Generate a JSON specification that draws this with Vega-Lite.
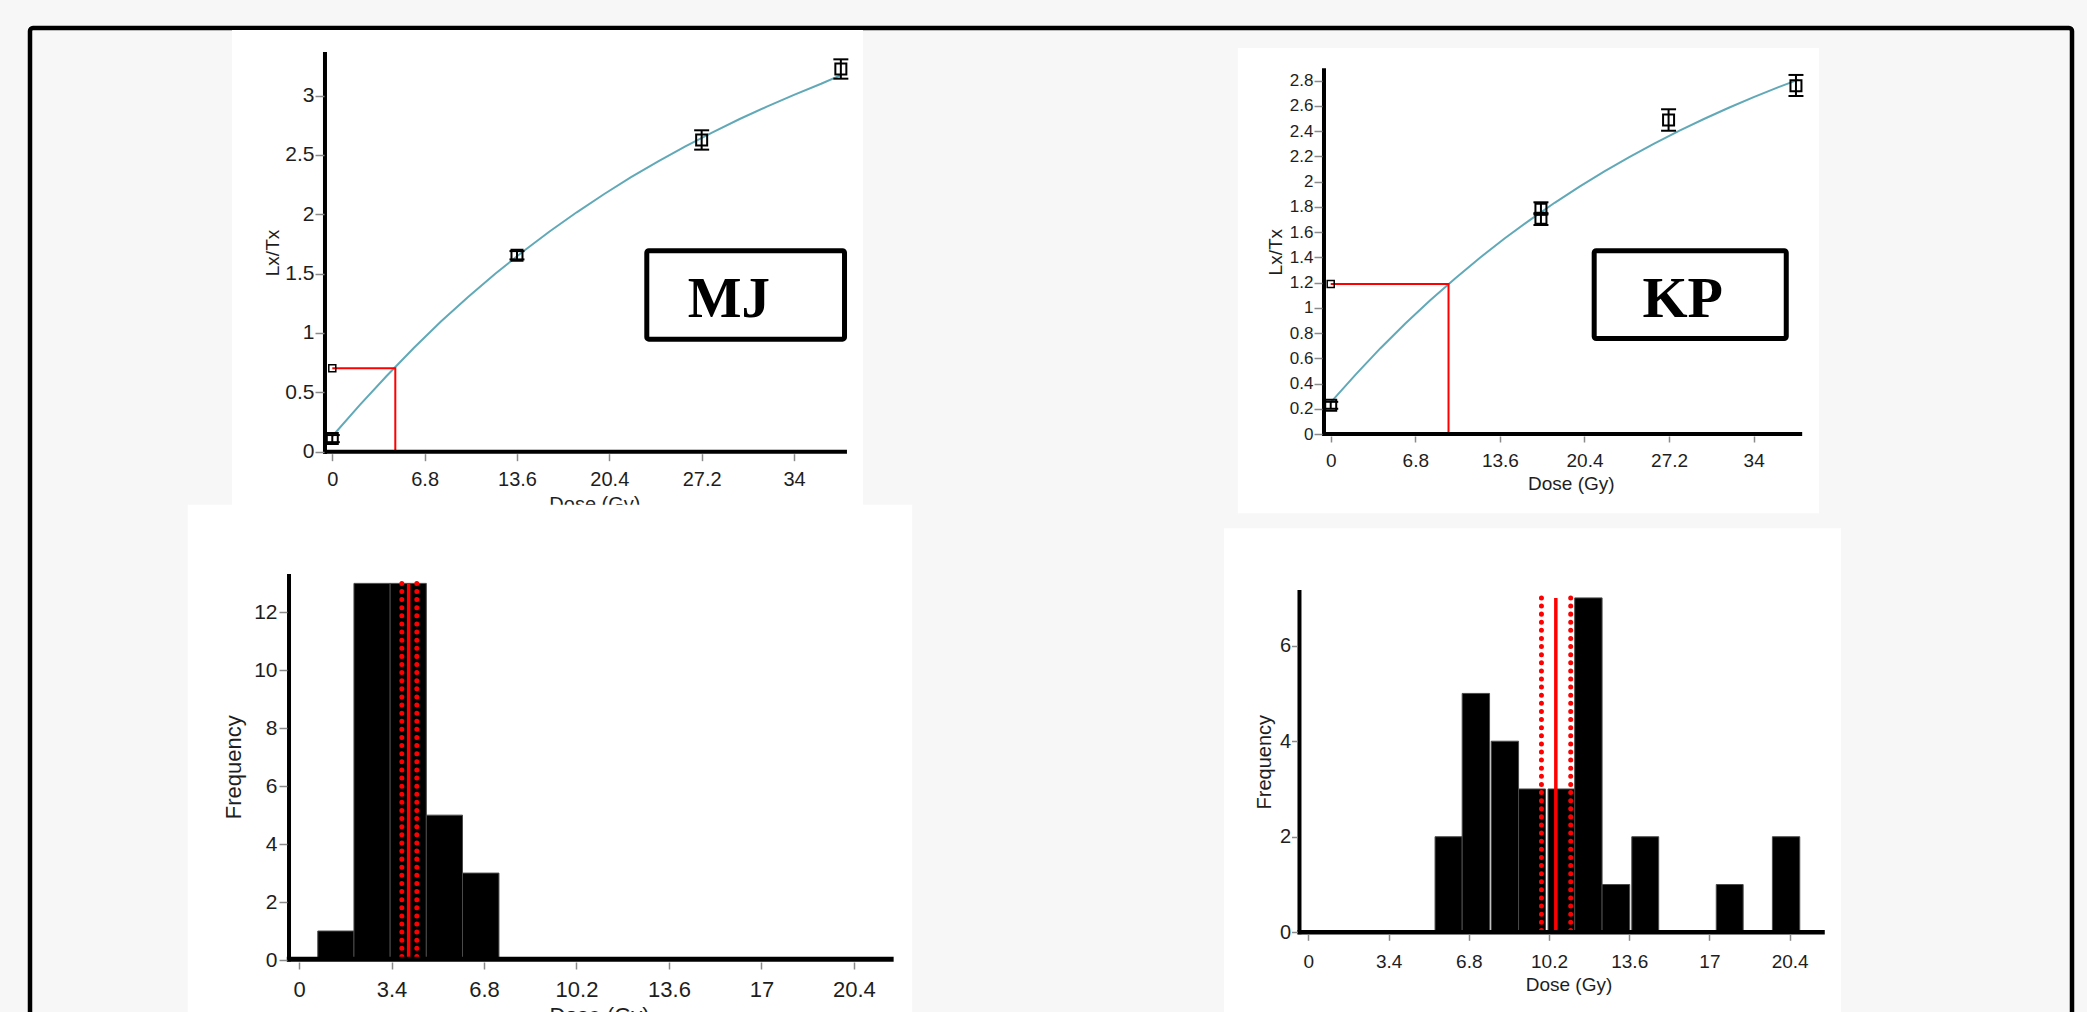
{
  "$schema": "https://vega.github.io/schema/vega-lite/v6.json",
  "width": 2042,
  "height": 994,
  "autosize": {"type": "none"},
  "padding": {"left": 30, "top": 28, "right": 15, "bottom": -10},
  "background": "#f7f7f7",
  "config": {
    "view": {"stroke": "#000000", "strokeWidth": 4.5, "cornerRadius": 3},
    "axis": {
      "grid": false, "domain": false, "tickColor": "#8a8a8a", "tickWidth": 1.5,
      "labelColor": "#1e1e1e", "labelFont": "Liberation Sans", "titleFont": "Liberation Sans",
      "titleFontWeight": "normal", "titleColor": "#1e1e1e",
      "labelFlush": false, "labelOverlap": false
    }
  },
  "datasets": {
    "mj_curve": [
      {"dose": 0, "lxtx": 0.13}, {"dose": 2, "lxtx": 0.39}, {"dose": 4, "lxtx": 0.638}, {"dose": 6, "lxtx": 0.874},
      {"dose": 8, "lxtx": 1.096}, {"dose": 10, "lxtx": 1.304}, {"dose": 12, "lxtx": 1.499}, {"dose": 14, "lxtx": 1.683},
      {"dose": 16, "lxtx": 1.855}, {"dose": 18, "lxtx": 2.017}, {"dose": 20, "lxtx": 2.169}, {"dose": 22, "lxtx": 2.313},
      {"dose": 24, "lxtx": 2.447}, {"dose": 26, "lxtx": 2.573}, {"dose": 28, "lxtx": 2.691}, {"dose": 30, "lxtx": 2.803},
      {"dose": 32, "lxtx": 2.908}, {"dose": 34, "lxtx": 3.006}, {"dose": 36, "lxtx": 3.1}, {"dose": 37.5, "lxtx": 3.175}
    ],
    "mj_points": [
      {"dose": 0, "lxtx": 0.11, "lo": 0.08, "hi": 0.14},
      {"dose": 13.6, "lxtx": 1.655, "lo": 1.62, "hi": 1.69},
      {"dose": 27.2, "lxtx": 2.626, "lo": 2.545, "hi": 2.708},
      {"dose": 37.45, "lxtx": 3.224, "lo": 3.143, "hi": 3.306}
    ],
    "mj_natural": [{"dose": 0, "lxtx": 0.703}, {"dose": 4.64, "lxtx": 0.703}, {"dose": 4.64, "lxtx": 0}],
    "kp_curve": [
      {"dose": 0, "lxtx": 0.25}, {"dose": 2, "lxtx": 0.471}, {"dose": 4, "lxtx": 0.68}, {"dose": 6, "lxtx": 0.875},
      {"dose": 8, "lxtx": 1.06}, {"dose": 10, "lxtx": 1.233}, {"dose": 12, "lxtx": 1.397}, {"dose": 14, "lxtx": 1.551},
      {"dose": 16, "lxtx": 1.695}, {"dose": 18, "lxtx": 1.832}, {"dose": 20, "lxtx": 1.96}, {"dose": 22, "lxtx": 2.081},
      {"dose": 24, "lxtx": 2.194}, {"dose": 26, "lxtx": 2.301}, {"dose": 28, "lxtx": 2.402}, {"dose": 30, "lxtx": 2.496},
      {"dose": 32, "lxtx": 2.585}, {"dose": 34, "lxtx": 2.669}, {"dose": 36, "lxtx": 2.748}, {"dose": 37.6, "lxtx": 2.808}
    ],
    "kp_points": [
      {"dose": 0, "lxtx": 0.227, "lo": 0.2, "hi": 0.255},
      {"dose": 16.9, "lxtx": 1.78, "lo": 1.74, "hi": 1.836},
      {"dose": 16.9, "lxtx": 1.71, "lo": 1.656, "hi": 1.75},
      {"dose": 27.16, "lxtx": 2.488, "lo": 2.403, "hi": 2.573},
      {"dose": 37.4, "lxtx": 2.76, "lo": 2.678, "hi": 2.845}
    ],
    "kp_natural": [{"dose": 0, "lxtx": 1.189}, {"dose": 9.47, "lxtx": 1.189}, {"dose": 9.47, "lxtx": 0}],
    "mj_hist": [
      {"lo": 0.69, "hi": 2.02, "count": 1}, {"lo": 2.02, "hi": 3.35, "count": 13}, {"lo": 3.35, "hi": 4.68, "count": 13},
      {"lo": 4.68, "hi": 6.01, "count": 5}, {"lo": 6.01, "hi": 7.35, "count": 3}
    ],
    "kp_hist": [
      {"lo": 5.37, "hi": 6.52, "count": 2}, {"lo": 6.52, "hi": 7.68, "count": 5}, {"lo": 7.75, "hi": 8.91, "count": 4},
      {"lo": 8.91, "hi": 10.05, "count": 3}, {"lo": 10.16, "hi": 11.29, "count": 3}, {"lo": 11.29, "hi": 12.45, "count": 7},
      {"lo": 12.45, "hi": 13.62, "count": 1}, {"lo": 13.71, "hi": 14.85, "count": 2}, {"lo": 17.29, "hi": 18.43, "count": 1},
      {"lo": 19.67, "hi": 20.83, "count": 2}
    ],
    "mj_stats": [{"stat": "lower", "dose": 3.78, "freq": 13}, {"stat": "central", "dose": 4.03, "freq": 13}, {"stat": "upper", "dose": 4.33, "freq": 13}],
    "kp_stats": [{"stat": "lower", "dose": 9.88, "freq": 7}, {"stat": "central", "dose": 10.49, "freq": 7}, {"stat": "upper", "dose": 11.12, "freq": 7}]
  },
  "resolve": {"scale": {"x": "independent", "y": "independent"}, "axis": {"x": "independent", "y": "independent"}},
  "layer": [
    {
      "data": {"values": [{}]},
      "mark": {"type": "rect", "fill": "#ffffff"},
      "encoding": {
        "x": {"datum": -7.386, "type": "quantitative", "scale": {"domain": [-22.26, 128.11], "nice": false, "zero": false},
          "axis": {"zindex": 1, "orient": "bottom", "offset": -568.3, "values": [0, 6.8, 13.6, 20.4, 27.2, 34], "format": ".4~g", "tickSize": 7, "labelPadding": 9, "labelFontSize": 20, "title": null}},
        "x2": {"datum": 39.08},
        "y": {"datum": 3.554, "type": "quantitative", "scale": {"domain": [-4.806, 3.57], "nice": false, "zero": false},
          "axis": {"zindex": 1, "orient": "left", "offset": -294, "values": [0, 0.5, 1, 1.5, 2, 2.5, 3], "format": ".4~g", "tickSize": 9, "labelPadding": 1, "labelFontSize": 21,
            "title": "Lx/Tx", "titleFontSize": 19, "titleX": -46, "titleY": 224.5, "titleAngle": 270, "titleAlign": "center", "titleBaseline": "alphabetic"}},
        "y2": {"datum": -0.449}
      }
    },
    {
      "data": {"values": [{}]},
      "mark": {"type": "rect", "fill": "#ffffff", "stroke": "#000000", "strokeWidth": 5, "cornerRadius": 2},
      "encoding": {
        "x": {"datum": 23.16, "type": "quantitative", "scale": {"domain": [-22.26, 128.11], "nice": false, "zero": false}, "axis": null},
        "x2": {"datum": 37.72},
        "y": {"datum": 1.693, "type": "quantitative", "scale": {"domain": [-4.806, 3.57], "nice": false, "zero": false}, "axis": null},
        "y2": {"datum": 0.948}
      }
    },
    {
      "data": {"values": [{}]},
      "mark": {"type": "text", "font": "Liberation Serif", "fontWeight": "bold", "fontSize": 57, "align": "center", "baseline": "alphabetic", "color": "#000000"},
      "encoding": {
        "x": {"datum": 29.21, "type": "quantitative", "scale": {"domain": [-22.26, 128.11], "nice": false, "zero": false}, "axis": null},
        "y": {"datum": 1.138, "type": "quantitative", "scale": {"domain": [-4.806, 3.57], "nice": false, "zero": false}, "axis": null},
        "text": {"value": "MJ"}
      }
    },
    {
      "data": {"name": "mj_curve"},
      "mark": {"type": "line", "color": "#62a9b8", "strokeWidth": 2},
      "encoding": {
        "x": {"field": "dose", "type": "quantitative", "scale": {"domain": [-22.26, 128.11], "nice": false, "zero": false}, "axis": null},
        "y": {"field": "lxtx", "type": "quantitative", "scale": {"domain": [-4.806, 3.57], "nice": false, "zero": false}, "axis": null}
      }
    },
    {
      "data": {"name": "mj_natural"},
      "mark": {"type": "line", "color": "#ff0000", "strokeWidth": 2},
      "encoding": {
        "x": {"field": "dose", "type": "quantitative", "scale": {"domain": [-22.26, 128.11], "nice": false, "zero": false}, "axis": null},
        "y": {"field": "lxtx", "type": "quantitative", "scale": {"domain": [-4.806, 3.57], "nice": false, "zero": false}, "axis": null},
        "order": {"value": null}
      }
    },
    {
      "data": {"name": "mj_natural"},
      "transform": [{"filter": "datum.dose == 0"}],
      "mark": {"type": "point", "shape": "square", "filled": false, "size": 49, "color": "#000000", "strokeWidth": 1.5, "opacity": 1},
      "encoding": {
        "x": {"field": "dose", "type": "quantitative", "scale": {"domain": [-22.26, 128.11], "nice": false, "zero": false}, "axis": null},
        "y": {"field": "lxtx", "type": "quantitative", "scale": {"domain": [-4.806, 3.57], "nice": false, "zero": false}, "axis": null}
      }
    },
    {
      "data": {"name": "mj_points"},
      "mark": {"type": "rule", "color": "#000000", "strokeWidth": 2},
      "encoding": {
        "x": {"field": "dose", "type": "quantitative", "scale": {"domain": [-22.26, 128.11], "nice": false, "zero": false}, "axis": null},
        "y": {"field": "lo", "type": "quantitative", "scale": {"domain": [-4.806, 3.57], "nice": false, "zero": false}, "axis": null},
        "y2": {"field": "hi"}
      }
    },
    {
      "data": {"name": "mj_points"},
      "mark": {"type": "tick", "orient": "horizontal", "size": 15, "thickness": 2, "color": "#000000", "opacity": 1},
      "encoding": {
        "x": {"field": "dose", "type": "quantitative", "scale": {"domain": [-22.26, 128.11], "nice": false, "zero": false}, "axis": null},
        "y": {"field": "lo", "type": "quantitative", "scale": {"domain": [-4.806, 3.57], "nice": false, "zero": false}, "axis": null}
      }
    },
    {
      "data": {"name": "mj_points"},
      "mark": {"type": "tick", "orient": "horizontal", "size": 15, "thickness": 2, "color": "#000000", "opacity": 1},
      "encoding": {
        "x": {"field": "dose", "type": "quantitative", "scale": {"domain": [-22.26, 128.11], "nice": false, "zero": false}, "axis": null},
        "y": {"field": "hi", "type": "quantitative", "scale": {"domain": [-4.806, 3.57], "nice": false, "zero": false}, "axis": null}
      }
    },
    {
      "data": {"name": "mj_points"},
      "mark": {"type": "point", "shape": "square", "filled": false, "size": 121, "color": "#000000", "strokeWidth": 2, "opacity": 1},
      "encoding": {
        "x": {"field": "dose", "type": "quantitative", "scale": {"domain": [-22.26, 128.11], "nice": false, "zero": false}, "axis": null},
        "y": {"field": "lxtx", "type": "quantitative", "scale": {"domain": [-4.806, 3.57], "nice": false, "zero": false}, "axis": null}
      }
    },
    {
      "data": {"values": [{}]},
      "mark": {"type": "rule", "color": "#000000", "strokeWidth": 4},
      "encoding": {
        "x": {"datum": -0.538, "type": "quantitative", "scale": {"domain": [-22.26, 128.11], "nice": false, "zero": false}, "axis": null},
        "y": {"datum": -0.02, "type": "quantitative", "scale": {"domain": [-4.806, 3.57], "nice": false, "zero": false}, "axis": null},
        "y2": {"datum": 3.368}
      }
    },
    {
      "data": {"values": [{}]},
      "mark": {"type": "rule", "color": "#000000", "strokeWidth": 4},
      "encoding": {
        "x": {"datum": -0.68, "type": "quantitative", "scale": {"domain": [-22.26, 128.11], "nice": false, "zero": false}, "axis": null},
        "x2": {"datum": 37.9},
        "y": {"datum": 0, "type": "quantitative", "scale": {"domain": [-4.806, 3.57], "nice": false, "zero": false}, "axis": null}
      }
    },
    {
      "data": {"values": [{}]},
      "mark": {"type": "text", "font": "Liberation Sans", "fontSize": 20, "align": "center", "baseline": "alphabetic", "color": "#1e1e1e"},
      "encoding": {
        "x": {"datum": 19.34, "type": "quantitative", "scale": {"domain": [-22.26, 128.11], "nice": false, "zero": false}, "axis": null},
        "y": {"datum": -0.5, "type": "quantitative", "scale": {"domain": [-4.806, 3.57], "nice": false, "zero": false}, "axis": null},
        "text": {"value": "Dose (Gy)"}
      }
    },

    {
      "data": {"values": [{}]},
      "mark": {"type": "rect", "fill": "#ffffff"},
      "encoding": {
        "x": {"datum": -7.468, "type": "quantitative", "scale": {"domain": [-104.56, 59.59], "nice": false, "zero": false},
          "axis": {"zindex": 1, "orient": "bottom", "offset": -586, "values": [0, 6.8, 13.6, 20.4, 27.2, 34], "format": ".4~g", "tickSize": 6, "labelPadding": 9, "labelFontSize": 19,
            "title": "Dose (Gy)", "titleFontSize": 19, "titleX": 1540.8, "titleY": 53, "titleAlign": "center", "titleBaseline": "alphabetic", "titleAngle": 0}},
        "x2": {"datum": 39.25},
        "y": {"datum": 3.059, "type": "quantitative", "scale": {"domain": [-4.659, 3.217], "nice": false, "zero": false},
          "axis": {"zindex": 1, "orient": "left", "offset": -1292, "values": [0, 0.2, 0.4, 0.6, 0.8, 1, 1.2, 1.4, 1.6, 1.8, 2, 2.2, 2.4, 2.6, 2.8], "format": ".4~g", "tickSize": 8, "labelPadding": 1, "labelFontSize": 17,
            "title": "Lx/Tx", "titleFontSize": 19, "titleX": -41, "titleY": 223.7, "titleAngle": 270, "titleAlign": "center", "titleBaseline": "alphabetic"}},
        "y2": {"datum": -0.628}
      }
    },
    {
      "data": {"values": [{}]},
      "mark": {"type": "rect", "fill": "#ffffff", "stroke": "#000000", "strokeWidth": 5, "cornerRadius": 2},
      "encoding": {
        "x": {"datum": 21.18, "type": "quantitative", "scale": {"domain": [-104.56, 59.59], "nice": false, "zero": false}, "axis": null},
        "x2": {"datum": 36.62},
        "y": {"datum": 1.452, "type": "quantitative", "scale": {"domain": [-4.659, 3.217], "nice": false, "zero": false}, "axis": null},
        "y2": {"datum": 0.757}
      }
    },
    {
      "data": {"values": [{}]},
      "mark": {"type": "text", "font": "Liberation Serif", "fontWeight": "bold", "fontSize": 58, "align": "center", "baseline": "alphabetic", "color": "#000000"},
      "encoding": {
        "x": {"datum": 28.3, "type": "quantitative", "scale": {"domain": [-104.56, 59.59], "nice": false, "zero": false}, "axis": null},
        "y": {"datum": 0.929, "type": "quantitative", "scale": {"domain": [-4.659, 3.217], "nice": false, "zero": false}, "axis": null},
        "text": {"value": "KP"}
      }
    },
    {
      "data": {"name": "kp_curve"},
      "mark": {"type": "line", "color": "#62a9b8", "strokeWidth": 2},
      "encoding": {
        "x": {"field": "dose", "type": "quantitative", "scale": {"domain": [-104.56, 59.59], "nice": false, "zero": false}, "axis": null},
        "y": {"field": "lxtx", "type": "quantitative", "scale": {"domain": [-4.659, 3.217], "nice": false, "zero": false}, "axis": null}
      }
    },
    {
      "data": {"name": "kp_natural"},
      "mark": {"type": "line", "color": "#ff0000", "strokeWidth": 2},
      "encoding": {
        "x": {"field": "dose", "type": "quantitative", "scale": {"domain": [-104.56, 59.59], "nice": false, "zero": false}, "axis": null},
        "y": {"field": "lxtx", "type": "quantitative", "scale": {"domain": [-4.659, 3.217], "nice": false, "zero": false}, "axis": null},
        "order": {"value": null}
      }
    },
    {
      "data": {"name": "kp_natural"},
      "transform": [{"filter": "datum.dose == 0"}],
      "mark": {"type": "point", "shape": "square", "filled": false, "size": 49, "color": "#000000", "strokeWidth": 1.5, "opacity": 1},
      "encoding": {
        "x": {"field": "dose", "type": "quantitative", "scale": {"domain": [-104.56, 59.59], "nice": false, "zero": false}, "axis": null},
        "y": {"field": "lxtx", "type": "quantitative", "scale": {"domain": [-4.659, 3.217], "nice": false, "zero": false}, "axis": null}
      }
    },
    {
      "data": {"name": "kp_points"},
      "mark": {"type": "rule", "color": "#000000", "strokeWidth": 2},
      "encoding": {
        "x": {"field": "dose", "type": "quantitative", "scale": {"domain": [-104.56, 59.59], "nice": false, "zero": false}, "axis": null},
        "y": {"field": "lo", "type": "quantitative", "scale": {"domain": [-4.659, 3.217], "nice": false, "zero": false}, "axis": null},
        "y2": {"field": "hi"}
      }
    },
    {
      "data": {"name": "kp_points"},
      "mark": {"type": "tick", "orient": "horizontal", "size": 15, "thickness": 2, "color": "#000000", "opacity": 1},
      "encoding": {
        "x": {"field": "dose", "type": "quantitative", "scale": {"domain": [-104.56, 59.59], "nice": false, "zero": false}, "axis": null},
        "y": {"field": "lo", "type": "quantitative", "scale": {"domain": [-4.659, 3.217], "nice": false, "zero": false}, "axis": null}
      }
    },
    {
      "data": {"name": "kp_points"},
      "mark": {"type": "tick", "orient": "horizontal", "size": 15, "thickness": 2, "color": "#000000", "opacity": 1},
      "encoding": {
        "x": {"field": "dose", "type": "quantitative", "scale": {"domain": [-104.56, 59.59], "nice": false, "zero": false}, "axis": null},
        "y": {"field": "hi", "type": "quantitative", "scale": {"domain": [-4.659, 3.217], "nice": false, "zero": false}, "axis": null}
      }
    },
    {
      "data": {"name": "kp_points"},
      "mark": {"type": "point", "shape": "square", "filled": false, "size": 121, "color": "#000000", "strokeWidth": 2, "opacity": 1},
      "encoding": {
        "x": {"field": "dose", "type": "quantitative", "scale": {"domain": [-104.56, 59.59], "nice": false, "zero": false}, "axis": null},
        "y": {"field": "lxtx", "type": "quantitative", "scale": {"domain": [-4.659, 3.217], "nice": false, "zero": false}, "axis": null}
      }
    },
    {
      "data": {"values": [{}]},
      "mark": {"type": "rule", "color": "#000000", "strokeWidth": 4},
      "encoding": {
        "x": {"datum": -0.54, "type": "quantitative", "scale": {"domain": [-104.56, 59.59], "nice": false, "zero": false}, "axis": null},
        "y": {"datum": -0.016, "type": "quantitative", "scale": {"domain": [-4.659, 3.217], "nice": false, "zero": false}, "axis": null},
        "y2": {"datum": 2.898}
      }
    },
    {
      "data": {"values": [{}]},
      "mark": {"type": "rule", "color": "#000000", "strokeWidth": 4},
      "encoding": {
        "x": {"datum": -0.7, "type": "quantitative", "scale": {"domain": [-104.56, 59.59], "nice": false, "zero": false}, "axis": null},
        "x2": {"datum": 37.9},
        "y": {"datum": 0, "type": "quantitative", "scale": {"domain": [-4.659, 3.217], "nice": false, "zero": false}, "axis": null}
      }
    },

    {
      "data": {"values": [{}]},
      "mark": {"type": "rect", "fill": "#ffffff"},
      "encoding": {
        "x": {"datum": -4.092, "type": "quantitative", "scale": {"domain": [-9.89, 65.18], "nice": false, "zero": false},
          "axis": {"zindex": 1, "orient": "bottom", "offset": -60, "values": [0, 3.4, 6.8, 10.2, 13.6, 17, 20.4], "format": ".4~g", "tickSize": 7, "labelPadding": 10, "labelFontSize": 22,
            "title": "Dose (Gy)", "titleFontSize": 22, "titleX": 569, "titleY": 60.5, "titleAlign": "center", "titleBaseline": "alphabetic", "titleAngle": 0}},
        "x2": {"datum": 22.54},
        "y": {"datum": 15.71, "type": "quantitative", "scale": {"domain": [-2.14, 32.17], "nice": false, "zero": false},
          "axis": {"zindex": 1, "orient": "left", "offset": -257, "values": [0, 2, 4, 6, 8, 10, 12], "format": ".4~g", "tickSize": 8, "labelPadding": 2, "labelFontSize": 21,
            "title": "Frequency", "titleFontSize": 22, "titleX": -46.7, "titleY": 738.7, "titleAngle": 270, "titleAlign": "center", "titleBaseline": "alphabetic"}},
        "y2": {"datum": -2.14}
      }
    },
    {
      "data": {"name": "mj_hist"},
      "mark": {"type": "rect", "fill": "#000000", "stroke": "#4a4a4a", "strokeWidth": 1},
      "encoding": {
        "x": {"field": "lo", "type": "quantitative", "scale": {"domain": [-9.89, 65.18], "nice": false, "zero": false}, "axis": null},
        "x2": {"field": "hi"},
        "y": {"field": "count", "type": "quantitative", "scale": {"domain": [-2.14, 32.17], "nice": false, "zero": false}, "axis": null},
        "y2": {"datum": 0}
      }
    },
    {
      "data": {"name": "mj_stats"},
      "transform": [{"filter": "datum.stat != 'central'"}],
      "mark": {"type": "rule", "color": "#ff0000", "strokeWidth": 5, "strokeCap": "round", "strokeDash": [0.01, 8.1]},
      "encoding": {
        "x": {"field": "dose", "type": "quantitative", "scale": {"domain": [-9.89, 65.18], "nice": false, "zero": false}, "axis": null},
        "y": {"field": "freq", "type": "quantitative", "scale": {"domain": [-2.14, 32.17], "nice": false, "zero": false}, "axis": null},
        "y2": {"datum": 0}
      }
    },
    {
      "data": {"name": "mj_stats"},
      "transform": [{"filter": "datum.stat == 'central'"}],
      "mark": {"type": "rule", "color": "#ff0000", "strokeWidth": 3.5},
      "encoding": {
        "x": {"field": "dose", "type": "quantitative", "scale": {"domain": [-9.89, 65.18], "nice": false, "zero": false}, "axis": null},
        "y": {"field": "freq", "type": "quantitative", "scale": {"domain": [-2.14, 32.17], "nice": false, "zero": false}, "axis": null},
        "y2": {"datum": 0}
      }
    },
    {
      "data": {"values": [{}]},
      "mark": {"type": "rule", "color": "#000000", "strokeWidth": 4},
      "encoding": {
        "x": {"datum": -0.368, "type": "quantitative", "scale": {"domain": [-9.89, 65.18], "nice": false, "zero": false}, "axis": null},
        "y": {"datum": -0.05, "type": "quantitative", "scale": {"domain": [-2.14, 32.17], "nice": false, "zero": false}, "axis": null},
        "y2": {"datum": 13.32}
      }
    },
    {
      "data": {"values": [{}]},
      "mark": {"type": "rule", "color": "#000000", "strokeWidth": 5},
      "encoding": {
        "x": {"datum": -0.45, "type": "quantitative", "scale": {"domain": [-9.89, 65.18], "nice": false, "zero": false}, "axis": null},
        "x2": {"datum": 21.86},
        "y": {"datum": 0.03, "type": "quantitative", "scale": {"domain": [-2.14, 32.17], "nice": false, "zero": false}, "axis": null}
      }
    },

    {
      "data": {"values": [{}]},
      "mark": {"type": "rect", "fill": "#ffffff"},
      "encoding": {
        "x": {"datum": -3.578, "type": "quantitative", "scale": {"domain": [-54.19, 32.37], "nice": false, "zero": false},
          "axis": {"zindex": 1, "orient": "bottom", "offset": -87.7, "values": [0, 3.4, 6.8, 10.2, 13.6, 17, 20.4], "format": ".4~g", "tickSize": 6, "labelPadding": 12, "labelFontSize": 19,
            "title": "Dose (Gy)", "titleFontSize": 19, "titleX": 1538.5, "titleY": 55.7, "titleAlign": "center", "titleBaseline": "alphabetic", "titleAngle": 0}},
        "x2": {"datum": 22.58},
        "y": {"datum": 8.457, "type": "quantitative", "scale": {"domain": [-1.878, 18.93], "nice": false, "zero": false},
          "axis": {"zindex": 1, "orient": "left", "offset": -1267.5, "values": [0, 2, 4, 6], "format": ".4~g", "tickSize": 6, "labelPadding": 1, "labelFontSize": 20,
            "title": "Frequency", "titleFontSize": 20, "titleX": -27, "titleY": 733.7, "titleAngle": 270, "titleAlign": "center", "titleBaseline": "alphabetic"}},
        "y2": {"datum": -1.878}
      }
    },
    {
      "data": {"name": "kp_hist"},
      "mark": {"type": "rect", "fill": "#000000", "stroke": "#4a4a4a", "strokeWidth": 1},
      "encoding": {
        "x": {"field": "lo", "type": "quantitative", "scale": {"domain": [-54.19, 32.37], "nice": false, "zero": false}, "axis": null},
        "x2": {"field": "hi"},
        "y": {"field": "count", "type": "quantitative", "scale": {"domain": [-1.878, 18.93], "nice": false, "zero": false}, "axis": null},
        "y2": {"datum": 0}
      }
    },
    {
      "data": {"name": "kp_stats"},
      "transform": [{"filter": "datum.stat != 'central'"}],
      "mark": {"type": "rule", "color": "#ff0000", "strokeWidth": 5, "strokeCap": "round", "strokeDash": [0.01, 8.1]},
      "encoding": {
        "x": {"field": "dose", "type": "quantitative", "scale": {"domain": [-54.19, 32.37], "nice": false, "zero": false}, "axis": null},
        "y": {"field": "freq", "type": "quantitative", "scale": {"domain": [-1.878, 18.93], "nice": false, "zero": false}, "axis": null},
        "y2": {"datum": 0}
      }
    },
    {
      "data": {"name": "kp_stats"},
      "transform": [{"filter": "datum.stat == 'central'"}],
      "mark": {"type": "rule", "color": "#ff0000", "strokeWidth": 3.5},
      "encoding": {
        "x": {"field": "dose", "type": "quantitative", "scale": {"domain": [-54.19, 32.37], "nice": false, "zero": false}, "axis": null},
        "y": {"field": "freq", "type": "quantitative", "scale": {"domain": [-1.878, 18.93], "nice": false, "zero": false}, "axis": null},
        "y2": {"datum": 0}
      }
    },
    {
      "data": {"values": [{}]},
      "mark": {"type": "rule", "color": "#000000", "strokeWidth": 4},
      "encoding": {
        "x": {"datum": -0.377, "type": "quantitative", "scale": {"domain": [-54.19, 32.37], "nice": false, "zero": false}, "axis": null},
        "y": {"datum": -0.04, "type": "quantitative", "scale": {"domain": [-1.878, 18.93], "nice": false, "zero": false}, "axis": null},
        "y2": {"datum": 7.166}
      }
    },
    {
      "data": {"values": [{}]},
      "mark": {"type": "rule", "color": "#000000", "strokeWidth": 4.5},
      "encoding": {
        "x": {"datum": -0.46, "type": "quantitative", "scale": {"domain": [-54.19, 32.37], "nice": false, "zero": false}, "axis": null},
        "x2": {"datum": 21.89},
        "y": {"datum": 0, "type": "quantitative", "scale": {"domain": [-1.878, 18.93], "nice": false, "zero": false}, "axis": null}
      }
    }
  ]
}
